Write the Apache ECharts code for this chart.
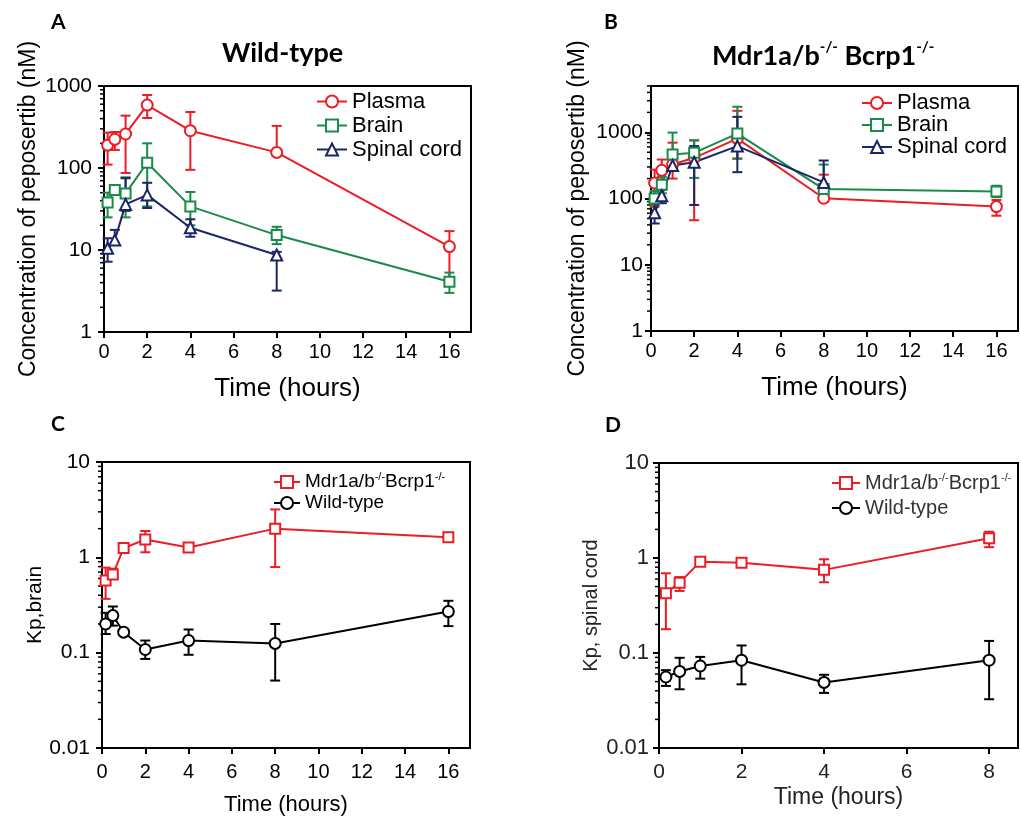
<!DOCTYPE html>
<html>
<head>
<meta charset="utf-8">
<script src="https://cdn.jsdelivr.net/npm/echarts@6/dist/echarts.min.js"></script>
<style>
  html, body { margin: 0; padding: 0; background: #fff; }
  #chart { width: 1021px; height: 821px; }
</style>
</head>
<body>
<div id="chart"></div>
<script>
// time points (hours)
const timesAll = [0.167, 0.5, 1, 2, 4, 8, 16];
const timesTo8 = [0.167, 0.5, 1, 2, 4, 8];

// A: wild-type concentrations (nM) with error bar ends
const wtPlasma = [190, 224, 260, 586, 285, 155, 11];
const wtPlasmaLow = [110, 166, 87, 407, 95, 140, 4.5];
const wtPlasmaHigh = [270, 275, 435, 776, 482, 326, 17];
const wtBrain = [38, 54, 49, 116, 34, 15.2, 4.1];
const wtBrainLow = [25, 47, 25, 34, 20, 11.8, 3.0];
const wtBrainHigh = [50, 57, 77, 200, 51, 19.2, 5.3];
const wtSpinal = [10.5, 13.2, 36, 47, 18.7, 8.7];
const wtSpinalLow = [7.2, 11.5, 30, 32.5, 14.5, 3.2];
const wtSpinalHigh = [13.9, 17.6, 75, 66, 23.7, 9.5];

// B: Mdr1a/b-/- Bcrp1-/- concentrations (nM)
const koPlasma = [171, 267, 326, 412, 801, 101, 75.5];
const koPlasmaLow = [75, 135, 200, 47, 400, 90, 55];
const koPlasmaHigh = [273, 388, 697, 756, 2110, 229, 95];
const koBrain = [100, 162, 462, 490, 955, 139, 128];
const koBrainLow = [80, 120, 350, 205, 400, 100, 105];
const koBrainHigh = [130, 210, 990, 756, 2430, 326, 156];
const koSpinal = [61, 110, 315, 353, 619, 175];
const koSpinalLow = [42, 85, 273, 80, 250, 130];
const koSpinalHigh = [114, 140, 390, 619, 1710, 375];

// C: Kp,brain
const kpBrainKo = [0.573, 0.66, 1.25, 1.54, 1.27, 2.0, 1.62];
const kpBrainKoLow = [0.367, 0.6, 1.18, 1.13, 1.2, 0.79, 1.55];
const kpBrainKoHigh = [0.78, 0.76, 1.32, 1.89, 1.35, 3.18, 1.72];
const kpBrainWt = [0.2, 0.245, 0.164, 0.108, 0.134, 0.125, 0.27];
const kpBrainWtLow = [0.157, 0.192, 0.16, 0.086, 0.095, 0.051, 0.19];
const kpBrainWtHigh = [0.262, 0.305, 0.17, 0.134, 0.175, 0.2, 0.35];

// D: Kp, spinal cord
const kpSpinalKo = [0.425, 0.55, 0.915, 0.89, 0.75, 1.61];
const kpSpinalKoLow = [0.178, 0.45, 0.87, 0.86, 0.555, 1.3];
const kpSpinalKoHigh = [0.69, 0.63, 0.96, 0.92, 0.97, 1.89];
const kpSpinalWt = [0.0559, 0.064, 0.073, 0.084, 0.049, 0.084];
const kpSpinalWtLow = [0.045, 0.0415, 0.0537, 0.0468, 0.038, 0.0326];
const kpSpinalWtHigh = [0.066, 0.089, 0.091, 0.12, 0.059, 0.134];

// axis ticks
const xTicks16 = [0, 2, 4, 6, 8, 10, 12, 14, 16];
const xTicks8 = [0, 2, 4, 6, 8];
const yTicksConc = [1, 10, 100, 1000];
const yTicksKp = [0.01, 0.1, 1, 10];

const KO_NAME = 'Mdr1a/b-/-Bcrp1-/-';
const RED = '#ec1c24';
const GREEN = '#1a8a4a';
const NAVY = '#1c2566';
const FONT = '"Liberation Sans", Arial, sans-serif';

const chart = echarts.init(document.getElementById('chart'));

function minorTicks(lo, hi) {
  const out = [];
  for (let e = Math.floor(Math.log10(lo)); e <= Math.ceil(Math.log10(hi)); e++) {
    for (let k = 2; k <= 9; k++) {
      const v = Number((k * Math.pow(10, e)).toPrecision(3));
      if (v > lo && v <= hi) out.push(v);
    }
  }
  return out;
}

const zip = (...cols) => cols[0].map((_, i) => cols.map(c => c[i]));

const grids = [];
const xAxes = [];
const yAxes = [];
const series = [];

function panel(g, opt) {
  grids.push(Object.assign({ show: true, borderColor: '#000', borderWidth: 2, backgroundColor: 'transparent' }, opt.rect));
  xAxes.push({
    gridIndex: g, type: 'value', min: 0, max: opt.xmax, position: 'bottom',
    axisLine: { show: true, onZero: false, lineStyle: { color: '#000', width: 2 } },
    axisTick: { show: true, length: 6, customValues: opt.xticks, lineStyle: { color: '#000', width: 2 } },
    axisLabel: { customValues: opt.xticks, fontSize: opt.tickFont, color: opt.textColor, margin: opt.xMargin, fontFamily: FONT },
    splitLine: { show: false },
    name: 'Time (hours)', nameLocation: 'middle', nameGap: opt.xNameGap,
    nameTextStyle: { fontSize: opt.xNameFont, color: opt.textColor, fontFamily: FONT }
  });
  yAxes.push({
    gridIndex: g, type: 'log', logBase: 10, min: opt.ymin, max: opt.ymax, position: 'left',
    axisLine: { show: true, onZero: false, lineStyle: { color: '#000', width: 2 } },
    axisTick: { show: true, length: 6, customValues: opt.yticks, lineStyle: { color: '#000', width: 2 } },
    axisLabel: {
      customValues: opt.yticks, fontSize: opt.yTickFont, color: opt.textColor, margin: opt.yMargin, fontFamily: FONT,
      formatter: v => String(Number(Number(v).toPrecision(3)))
    },
    splitLine: { show: false },
    name: opt.yName, nameLocation: 'middle', nameGap: opt.yNameGap,
    nameTextStyle: { fontSize: opt.yNameFont, color: opt.textColor, fontFamily: FONT }
  });

  // short log minor ticks on the outside of the y axis
  series.push({
    type: 'custom', xAxisIndex: g, yAxisIndex: g, silent: true, z: 1, clip: false,
    data: minorTicks(opt.ymin, opt.ymax).map(v => [0, v]),
    encode: { x: 0, y: 1 },
    renderItem: (params, api) => {
      const p = api.coord([0, api.value(1)]);
      return {
        type: 'line',
        shape: { x1: p[0] - 4, y1: p[1], x2: p[0], y2: p[1] },
        style: { stroke: '#000', lineWidth: 1.5 }
      };
    }
  });

  opt.lines.forEach(l => {
    series.push({
      type: 'custom', xAxisIndex: g, yAxisIndex: g, silent: true, z: 2,
      data: zip(l.t, l.low, l.high),
      encode: { x: 0, y: [1, 2] },
      renderItem: (params, api) => {
        const x = api.value(0);
        const top = api.coord([x, api.value(2)]);
        const bot = api.coord([x, api.value(1)]);
        const w = 5;
        const st = { stroke: l.color, lineWidth: 2 };
        return {
          type: 'group',
          children: [
            { type: 'line', shape: { x1: top[0], y1: top[1], x2: bot[0], y2: bot[1] }, style: st },
            { type: 'line', shape: { x1: top[0] - w, y1: top[1], x2: top[0] + w, y2: top[1] }, style: st },
            { type: 'line', shape: { x1: bot[0] - w, y1: bot[1], x2: bot[0] + w, y2: bot[1] }, style: st }
          ]
        };
      }
    });
    series.push({
      type: 'line', name: l.name, xAxisIndex: g, yAxisIndex: g, z: 3,
      data: zip(l.t, l.v),
      symbol: l.symbol, symbolSize: l.size || 11,
      lineStyle: { color: l.color, width: 2 },
      itemStyle: { color: l.color, borderWidth: 2 }
    });
  });
}

panel(0, {
  rect: { left: 104, top: 86, width: 367, height: 246 },
  xmax: 17, xticks: xTicks16, ymin: 1, ymax: 1000, yticks: yTicksConc,
  tickFont: 20, yTickFont: 21, xNameFont: 26, xNameGap: 44, xMargin: 10, yMargin: 12,
  yName: 'Concentration of peposertib (nM)', yNameGap: 64, yNameFont: 23, textColor: '#000',
  lines: [
    { name: 'Plasma', t: timesAll, v: wtPlasma, low: wtPlasmaLow, high: wtPlasmaHigh, color: RED, symbol: 'emptyCircle' },
    { name: 'Brain', t: timesAll, v: wtBrain, low: wtBrainLow, high: wtBrainHigh, color: GREEN, symbol: 'emptyRect', size: 10 },
    { name: 'Spinal cord', t: timesTo8, v: wtSpinal, low: wtSpinalLow, high: wtSpinalHigh, color: NAVY, symbol: 'emptyTriangle', size: 11 }
  ]
});
panel(1, {
  rect: { left: 651, top: 86, width: 367, height: 245 },
  xmax: 17, xticks: xTicks16, ymin: 1, ymax: 5000, yticks: yTicksConc,
  tickFont: 20, yTickFont: 21, xNameFont: 26, xNameGap: 44, xMargin: 10, yMargin: 8,
  yName: 'Concentration of peposertib (nM)', yNameGap: 62, yNameFont: 23, textColor: '#000',
  lines: [
    { name: 'Plasma', t: timesAll, v: koPlasma, low: koPlasmaLow, high: koPlasmaHigh, color: RED, symbol: 'emptyCircle' },
    { name: 'Brain', t: timesAll, v: koBrain, low: koBrainLow, high: koBrainHigh, color: GREEN, symbol: 'emptyRect', size: 10 },
    { name: 'Spinal cord', t: timesTo8, v: koSpinal, low: koSpinalLow, high: koSpinalHigh, color: NAVY, symbol: 'emptyTriangle', size: 11 }
  ]
});
panel(2, {
  rect: { left: 102, top: 462, width: 368, height: 286 },
  xmax: 17, xticks: xTicks16, ymin: 0.01, ymax: 10, yticks: yTicksKp,
  tickFont: 20, yTickFont: 21, xNameFont: 22, xNameGap: 46, xMargin: 14, yMargin: 12,
  yName: 'Kp,brain', yNameGap: 52, yNameFont: 21, textColor: '#000',
  lines: [
    { name: KO_NAME, t: timesAll, v: kpBrainKo, low: kpBrainKoLow, high: kpBrainKoHigh, color: RED, symbol: 'emptyRect', size: 10 },
    { name: 'Wild-type', t: timesAll, v: kpBrainWt, low: kpBrainWtLow, high: kpBrainWtHigh, color: '#000', symbol: 'emptyCircle' }
  ]
});
panel(3, {
  rect: { left: 659, top: 463, width: 359, height: 285 },
  xmax: 8.7, xticks: xTicks8, ymin: 0.01, ymax: 10, yticks: yTicksKp,
  tickFont: 21, yTickFont: 22, xNameFont: 23, xNameGap: 38, xMargin: 14, yMargin: 10,
  yName: 'Kp, spinal cord', yNameGap: 58, yNameFont: 20, textColor: '#222',
  lines: [
    { name: KO_NAME, t: timesTo8, v: kpSpinalKo, low: kpSpinalKoLow, high: kpSpinalKoHigh, color: RED, symbol: 'emptyRect', size: 10 },
    { name: 'Wild-type', t: timesTo8, v: kpSpinalWt, low: kpSpinalWtLow, high: kpSpinalWtHigh, color: '#000', symbol: 'emptyCircle' }
  ]
});

function koRich(color, size) {
  return {
    n: { fontSize: size, fontFamily: FONT, color: color, lineHeight: 22 },
    s: { fontSize: 11, fontFamily: FONT, color: color, verticalAlign: 'top', lineHeight: 22 }
  };
}
const koFormatter = name => name === KO_NAME ? '{n|Mdr1a/b}{s|-/-}{n|Bcrp1}{s|-/-}' : '{n|' + name + '}';

const legendBase = {
  orient: 'vertical', selectedMode: false, itemWidth: 30, itemHeight: 15, itemGap: 1,
  textStyle: { fontSize: 22, lineHeight: 23, fontFamily: FONT, color: '#000' }
};

const option = {
  animation: false,
  backgroundColor: '#fff',
  grid: grids,
  xAxis: xAxes,
  yAxis: yAxes,
  legend: [
    Object.assign({}, legendBase, { data: ['Plasma', 'Brain', 'Spinal cord'], left: 311, top: 85 }),
    Object.assign({}, legendBase, { data: ['Plasma', 'Brain', 'Spinal cord'], left: 856, top: 87, itemGap: 0, textStyle: { fontSize: 22, lineHeight: 22, fontFamily: FONT, color: '#000' } }),
    Object.assign({}, legendBase, {
      data: [KO_NAME, 'Wild-type'], left: 268, top: 466, itemGap: 2, itemWidth: 26,
      formatter: koFormatter, textStyle: { fontSize: 19, fontFamily: FONT, color: '#000', rich: koRich('#000', 19) }
    }),
    Object.assign({}, legendBase, {
      data: [KO_NAME, 'Wild-type'], left: 826, top: 467, itemGap: 5, itemWidth: 28,
      formatter: koFormatter, textStyle: { fontSize: 20, fontFamily: FONT, color: '#333', rich: koRich('#333', 20) }
    })
  ],
  graphic: [
    { type: 'text', left: 51, top: 12, style: { text: 'A', font: 'bold 21px Lato, sans-serif', fill: '#000' } },
    { type: 'text', left: 604, top: 12, style: { text: 'B', font: 'bold 21px Lato, sans-serif', fill: '#000' } },
    { type: 'text', left: 51, top: 414, style: { text: 'C', font: 'bold 21px Lato, sans-serif', fill: '#000' } },
    { type: 'text', left: 605, top: 415, style: { text: 'D', font: 'bold 21px Lato, sans-serif', fill: '#000' } },
    { type: 'text', left: 222, top: 40, style: { text: 'Wild-type', font: 'bold 27px Lato, sans-serif', fill: '#000' } },
    {
      type: 'text', left: 712, top: 40,
      style: {
        text: '{b|Mdr1a/b}{s|-/-}{b| Bcrp1}{s|-/-}',
        rich: {
          b: { font: 'bold 27px Lato, sans-serif', fill: '#000', lineHeight: 32 },
          s: { font: 'bold 15px Lato, sans-serif', fill: '#000', verticalAlign: 'top', lineHeight: 32 }
        }
      }
    }
  ],
  series: series
};

chart.setOption(option);
</script>
</body>
</html>
